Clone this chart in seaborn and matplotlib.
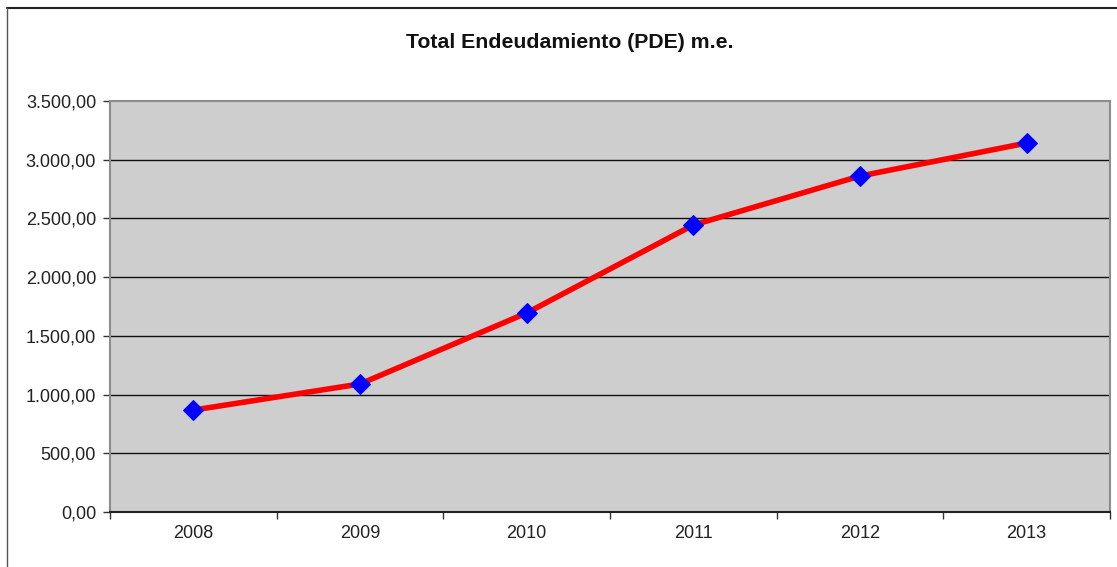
import seaborn as sns
import matplotlib.pyplot as plt
import pandas as pd
from matplotlib.lines import Line2D
from matplotlib.ticker import FuncFormatter, FixedLocator

years = ['2008', '2009', '2010', '2011', '2012', '2013']
deuda = [868, 1090, 1695, 2444, 2861, 3142]

df = pd.DataFrame({'year': years, 'pos': range(len(years)), 'deuda': deuda})

sns.set_theme(style='white')
plt.rcParams['font.family'] = ['Liberation Sans', 'DejaVu Sans']

fig = plt.figure(figsize=(11.17, 5.67), dpi=100)
ax = fig.add_axes([110 / 1117, 55 / 567, 1000 / 1117, 411 / 567])
ax.set_facecolor('#cecece')

sns.lineplot(data=df, x='pos', y='deuda', ax=ax, color='#ff0000', linewidth=4,
             marker='D', markersize=10, markerfacecolor='#0000ff',
             markeredgecolor='#0000ff', zorder=5)

ax.set_xlim(-0.5, 5.5)
ax.set_ylim(0, 3500)
ax.set_yticks(range(0, 3501, 500))
ax.yaxis.set_major_formatter(FuncFormatter(
    lambda v, p: f'{v:,.2f}'.replace(',', 'X').replace('.', ',').replace('X', '.')))
ax.set_xticks(range(len(years)))
ax.set_xticklabels(years)
ax.xaxis.set_minor_locator(FixedLocator([i - 0.5 for i in range(len(years) + 1)]))
ax.tick_params(axis='x', which='major', length=0, pad=9, labelsize=13, colors='#222222')
ax.tick_params(axis='x', which='minor', length=5, width=1, color='#333333', direction='out', bottom=True)
ax.tick_params(axis='y', length=5, width=1, color='#333333', direction='out', left=True,
               labelsize=13, labelcolor='#222222', pad=5)

for y in range(500, 3001, 500):
    ax.axhline(y, color='#111111', linewidth=1, zorder=1)

for s in ['top', 'right', 'left']:
    ax.spines[s].set_color('#8c8c8c')
    ax.spines[s].set_linewidth(1.5)
ax.spines['bottom'].set_color('#222222')
ax.spines['bottom'].set_linewidth(1.5)
ax.set_xlabel('')
ax.set_ylabel('')

fig.text(570 / 1117, 1 - 42 / 567, 'Total Endeudamiento (PDE) m.e.', ha='center', va='center',
         fontsize=15.3, fontweight='bold', color='#111111')

fig.add_artist(Line2D([7 / 1117, 1], [1 - 8 / 567, 1 - 8 / 567], color='#222222', linewidth=1.5,
                      transform=fig.transFigure))
fig.add_artist(Line2D([7 / 1117, 7 / 1117], [0, 1 - 8 / 567], color='#555555', linewidth=1,
                      transform=fig.transFigure))

fig.savefig('out.png', dpi=100, facecolor='white')
